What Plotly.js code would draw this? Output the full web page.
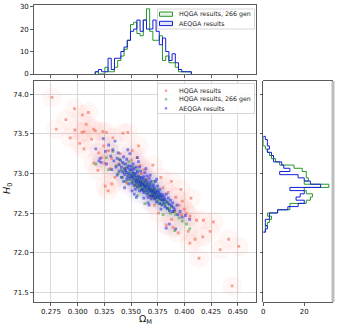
<!DOCTYPE html>
<html>
<head>
<meta charset="utf-8">
<script src="https://cdn.plot.ly/plotly-3.0.1.min.js"></script>
<style>
  html, body { margin: 0; padding: 0; background: #fff; }
  #plotArea { width: 337px; height: 328px; }
</style>
</head>
<body>
<div id="plotArea"></div>
<script>
// scatter: HQGA results (red)
var omRed = [0.276,0.297,0.3045,0.310,0.289,0.280,0.2975,0.304,0.315,0.3165,0.306,0.3235,0.3268,0.3425,0.347,0.302,0.306,0.313,0.3196,0.3226,0.315,0.319,0.3253,0.326,0.3285,0.332,0.3305,0.3385,0.3505,0.344,0.3586,0.329,0.3245,0.3317,0.351,0.3556,0.308,0.293,0.335,
  0.3705,0.3879,0.3967,0.4062,0.3973,0.4052,0.4115,0.4178,0.4273,0.4241,0.4172,0.4036,0.4052,0.410,0.3942,0.3894,0.3831,0.4415,0.4336,0.451,0.4137,0.4447,0.391,0.395,0.400,0.402,0.385,0.378,0.392,0.398,0.360,0.365,0.372,0.362,0.355,0.368,0.380,0.376,0.388,0.346,0.340,0.357,0.333];
var h0Red = [73.96,73.82,73.74,73.77,73.68,73.56,73.55,73.52,73.56,73.54,73.53,73.53,73.52,73.51,73.52,73.38,73.31,73.43,73.26,73.20,73.13,73.04,73.13,72.84,72.78,72.87,73.06,73.12,73.17,73.06,73.10,73.29,73.35,73.19,73.29,73.20,73.62,73.45,72.95,
  73.105,72.90,72.80,72.69,72.48,72.46,72.41,72.41,72.39,72.27,72.20,72.27,72.12,72.17,72.25,72.32,72.35,72.17,72.04,72.08,71.93,71.58,72.52,72.60,72.55,72.50,72.76,72.95,72.70,72.65,73.00,72.92,72.60,73.05,72.85,72.70,72.82,72.50,72.42,72.88,73.25,73.35,73.45];

// scatter: HQGA results, 266 gen (green)
var omGreen = [0.317,0.327,0.329,0.333,0.336,0.338,0.339,
  0.341,0.342,0.343,0.344,0.345,0.346,0.347,0.348,0.348,0.349,0.350,
  0.351,0.351,0.352,0.352,0.353,0.353,0.354,0.354,0.355,0.355,0.356,0.356,0.357,0.357,0.358,0.358,0.359,0.359,0.360,0.360,
  0.361,0.361,0.362,0.362,0.363,0.363,0.364,0.364,0.365,0.365,0.366,0.366,0.367,0.367,0.368,0.368,0.369,0.369,0.370,0.370,
  0.371,0.371,0.372,0.372,0.373,0.373,0.374,0.374,0.375,0.375,0.376,0.377,0.377,0.378,0.379,0.380,
  0.381,0.382,0.383,0.384,0.385,0.386,0.387,0.388,0.390,
  0.392,0.395,0.398,0.402,0.405,
  0.363,0.372,0.356,0.380,0.391];
var h0Green = [73.12,73.20,73.05,73.28,73.10,73.00,73.18,
  73.05,72.95,73.12,73.02,72.90,73.08,72.98,73.15,72.92,73.03,72.96,
  73.00,72.90,72.95,73.08,72.88,72.99,72.93,72.84,72.97,72.90,73.04,72.86,72.92,72.82,72.95,72.88,72.84,72.91,72.87,72.80,
  72.90,72.83,72.86,72.78,72.92,72.84,72.80,72.88,72.83,72.76,72.86,72.79,72.82,72.74,72.80,72.88,72.77,72.72,72.80,72.74,
  72.77,72.70,72.79,72.73,72.68,72.76,72.72,72.80,72.70,72.65,72.74,72.68,72.62,72.71,72.66,72.62,
  72.67,72.60,72.64,72.56,72.62,72.55,72.50,72.58,72.52,
  72.48,72.44,72.40,72.36,72.30,
  72.62,72.90,72.72,72.48,72.28];

// scatter: AEQGA results (blue)
var omBlue = [0.317,0.321,0.324,0.326,0.327,0.329,0.322,
  0.331,0.332,0.333,0.334,0.335,0.336,0.337,0.337,0.338,0.339,0.339,0.340,
  0.341,0.341,0.342,0.342,0.343,0.343,0.344,0.344,0.345,0.345,0.346,0.346,0.346,0.347,0.347,0.348,0.348,0.348,0.349,0.349,0.349,0.350,0.350,0.344,0.347,
  0.351,0.351,0.351,0.352,0.352,0.352,0.353,0.353,0.353,0.354,0.354,0.354,0.355,0.355,0.355,0.356,0.356,0.356,0.357,0.357,0.357,0.358,0.358,0.358,0.359,0.359,0.359,0.360,0.360,0.360,0.353,0.356,0.358,0.351,0.355,
  0.361,0.361,0.361,0.362,0.362,0.362,0.363,0.363,0.363,0.364,0.364,0.364,0.365,0.365,0.365,0.366,0.366,0.366,0.367,0.367,0.367,0.368,0.368,0.368,0.369,0.369,0.369,0.370,0.370,0.370,0.362,0.364,0.366,0.368,0.367,
  0.371,0.371,0.371,0.372,0.372,0.372,0.373,0.373,0.373,0.374,0.374,0.375,0.375,0.375,0.376,0.376,0.377,0.377,0.377,0.378,0.378,0.379,0.379,0.380,0.380,0.374,0.378,
  0.381,0.381,0.382,0.382,0.383,0.384,0.384,0.385,0.386,0.386,0.387,0.388,0.389,0.389,0.390,
  0.391,0.393,0.394,0.396,0.398,0.401,0.405,0.383,0.392,0.386,0.320];
var h0Blue = [73.31,73.19,73.44,73.28,73.12,73.36,73.14,
  73.22,73.05,73.30,73.16,73.41,73.08,73.19,72.98,73.26,73.11,73.03,73.17,
  73.08,72.95,73.14,73.02,73.21,72.90,73.06,72.99,73.12,73.04,72.93,73.18,73.01,73.07,72.96,73.10,72.87,73.00,73.05,72.94,73.25,72.98,73.09,72.82,73.30,
  72.96,73.05,72.88,73.01,72.93,73.12,72.97,72.85,73.06,72.91,73.00,72.80,72.95,73.08,72.88,72.92,73.02,72.83,72.97,72.89,73.15,72.86,72.94,72.78,72.90,73.03,72.84,72.88,72.95,72.79,72.74,73.20,73.08,72.78,72.70,
  72.87,72.93,72.80,72.85,72.96,72.76,72.89,72.82,73.01,72.84,72.78,72.92,72.86,72.74,72.97,72.81,72.89,72.70,72.83,72.77,72.94,72.80,72.86,72.72,72.78,72.90,72.68,72.76,72.83,72.71,72.69,73.06,72.63,72.98,72.60,
  72.79,72.72,72.86,72.75,72.68,72.82,72.77,72.70,72.90,72.74,72.64,72.78,72.71,72.84,72.69,72.76,72.72,72.62,72.80,72.67,72.74,72.70,72.60,72.66,72.73,72.93,72.55,
  72.70,72.63,72.67,72.58,72.74,72.64,72.56,72.69,72.61,72.53,72.66,72.59,72.52,72.63,72.57,
  72.54,72.60,72.48,72.52,72.45,72.47,72.42,72.31,72.30,72.36,73.16];

// marginal histograms (30 bins each), counts
var omBinStart = 0.3165, omBinWidth = 0.003;
var omGreenCounts = [1,0,0,3,1,1,3,6,8,11,15,22,23,18,17,24,29,19,15,15,17,6,8,5,5,3,1,1,1,1];
var omBlueCounts  = [1,2,1,1,7,2,7,7,10,12,15,19,20,24,19,24,20,20,24,19,13,16,10,6,9,5,2,1,1,1];
var h0BinStart = 72.26, h0BinWidth = 0.0403;
var h0GreenCounts = [1,1,2,3,4,2,7,13,13,21,23,24,21,20,32,20,22,21,21,19,15,8,6,4,3,2,1,0,0,0];
var h0BlueCounts  = [1,2,1,1,3,3,7,12,17,20,16,18,20,13,28,23,20,17,8,13,10,9,5,5,4,2,3,2,2,1];

var omTicks = [0.275,0.300,0.325,0.350,0.375,0.400,0.425,0.450];
var h0Ticks = [71.5,72.0,72.5,73.0,73.5,74.0];
var topHistTicks = [0,10,20,30];
var sideHistTicks = [0,20];

var RED = "rgb(242,105,85)", GREEN = "rgb(40,150,40)", BLUE = "rgb(20,30,215)";

// pixel -> paper helpers
function fx(p) { return p / 337; }
function fy(p) { return 1 - p / 328; }

function halo(xs, ys, color, size, op) {
    return {x: xs, y: ys, type: "scatter", mode: "markers", hoverinfo: "skip",
        marker: {color: color, size: size, opacity: op, line: {width: 0}}};
}
function dots(xs, ys, color, op, name) {
    return {x: xs, y: ys, type: "scatter", mode: "markers", name: name,
        marker: {color: color, size: 2.8, symbol: "square", opacity: op, line: {width: 0}}};
}
function topStep(counts, color) {
    var xs = [omBinStart], ys = [0];
    for (var i = 0; i < counts.length; i++) { xs.push(omBinStart + i * omBinWidth); ys.push(counts[i]); }
    xs.push(omBinStart + counts.length * omBinWidth); ys.push(0);
    return {x: xs, y: ys, type: "scatter", mode: "lines", xaxis: "x2", yaxis: "y2", hoverinfo: "skip",
        line: {shape: "hv", color: color, width: 1}};
}
function sideStep(counts, color) {
    var xs = [0], ys = [h0BinStart];
    for (var i = 0; i < counts.length; i++) { xs.push(counts[i]); ys.push(h0BinStart + i * h0BinWidth); }
    xs.push(0); ys.push(h0BinStart + counts.length * h0BinWidth);
    return {x: xs, y: ys, type: "scatter", mode: "lines", xaxis: "x3", yaxis: "y3", hoverinfo: "skip",
        line: {shape: "vh", color: color, width: 1}};
}

var data = [
    halo(omRed, h0Red, "rgb(250,150,130)", 20, 0.075),
    halo(omGreen, h0Green, "rgb(120,200,120)", 14, 0.03),
    halo(omBlue, h0Blue, "rgb(120,140,240)", 14, 0.03),
    dots(omRed, h0Red, RED, 0.6, "HQGA results"),
    dots(omGreen, h0Green, GREEN, 0.5, "HQGA results, 266 gen"),
    dots(omBlue, h0Blue, BLUE, 0.5, "AEQGA results"),
    topStep(omGreenCounts, GREEN),
    topStep(omBlueCounts, BLUE),
    sideStep(h0GreenCounts, GREEN),
    sideStep(h0BlueCounts, BLUE)
];

var tickFont = {family: "DejaVu Sans", size: 7, color: "#111"};
var axBase = {ticks: "outside", ticklen: 3, tickwidth: 0.8, tickcolor: "#333", showline: true,
    linecolor: "#333", linewidth: 0.8, mirror: true, zeroline: false, tickfont: tickFont, fixedrange: true};

var mainX = [fx(34), fx(256.5)], mainY = [fy(302), fy(81)];
var omRange = [0.2591, 0.4676], h0Range = [71.3775, 74.168];

var layout = {
    width: 337, height: 328,
    margin: {l: 0, r: 0, t: 0, b: 0},
    paper_bgcolor: "#fff", plot_bgcolor: "#fff",
    showlegend: false,
    font: {family: "DejaVu Sans", color: "#111"},
    xaxis: Object.assign({}, axBase, {domain: mainX, range: omRange, anchor: "y", tickvals: omTicks,
        tickformat: ".3f", showgrid: true, gridcolor: "#d0d0d0", gridwidth: 0.8}),
    yaxis: Object.assign({}, axBase, {domain: mainY, range: h0Range, anchor: "x", tickvals: h0Ticks,
        tickformat: ".1f", showgrid: true, gridcolor: "#d0d0d0", gridwidth: 0.8}),
    xaxis2: Object.assign({}, axBase, {domain: mainX, range: omRange, anchor: "y2", tickvals: omTicks,
        showticklabels: false, showgrid: false}),
    yaxis2: Object.assign({}, axBase, {domain: [fy(74), fy(5)], range: [0, 30.7], anchor: "x2",
        tickvals: topHistTicks, showgrid: false}),
    xaxis3: Object.assign({}, axBase, {domain: [fx(263.3), fx(331.7)], range: [0, 33.4], anchor: "y3",
        tickvals: sideHistTicks, showgrid: false}),
    yaxis3: Object.assign({}, axBase, {domain: mainY, range: h0Range, anchor: "x3", tickvals: h0Ticks,
        showticklabels: false, showgrid: false}),
    shapes: [
        // grey band on the right edge of the side histogram
        {type: "rect", xref: "paper", yref: "paper", x0: fx(331.5), x1: fx(334.5), y0: fy(302), y1: fy(81),
            fillcolor: "#bdbdbd", line: {width: 0}},
        // scatter legend box + markers
        {type: "rect", xref: "paper", yref: "paper", x0: fx(157.5), x1: fx(254.5), y0: fy(113.5), y1: fy(83.5),
            fillcolor: "rgba(255,255,255,0.85)", line: {color: "#cccccc", width: 0.8}},
        {type: "rect", xref: "paper", yref: "paper", x0: fx(164.8), x1: fx(167.2), y0: fy(91.9), y1: fy(89.5),
            fillcolor: RED, opacity: 0.6, line: {width: 0}},
        {type: "rect", xref: "paper", yref: "paper", x0: fx(164.8), x1: fx(167.2), y0: fy(100.5), y1: fy(98.1),
            fillcolor: GREEN, opacity: 0.5, line: {width: 0}},
        {type: "rect", xref: "paper", yref: "paper", x0: fx(164.8), x1: fx(167.2), y0: fy(109.5), y1: fy(107.1),
            fillcolor: BLUE, opacity: 0.5, line: {width: 0}},
        // histogram legend box + patches
        {type: "rect", xref: "paper", yref: "paper", x0: fx(157.5), x1: fx(254.5), y0: fy(29), y1: fy(9),
            fillcolor: "rgba(255,255,255,0.85)", line: {color: "#cccccc", width: 0.8}},
        {type: "rect", xref: "paper", yref: "paper", x0: fx(159.5), x1: fx(172.5), y0: fy(16.3), y1: fy(12),
            fillcolor: "rgba(40,150,40,0.12)", line: {color: GREEN, width: 1}},
        {type: "rect", xref: "paper", yref: "paper", x0: fx(159.5), x1: fx(172.5), y0: fy(25.6), y1: fy(21.3),
            fillcolor: "rgba(20,30,215,0.12)", line: {color: BLUE, width: 1}}
    ],
    annotations: [
        {xref: "paper", yref: "paper", x: fx(177), y: fy(90.7), xanchor: "left", yanchor: "middle", showarrow: false,
            text: "HQGA results", font: {size: 6.3, color: "#222"}},
        {xref: "paper", yref: "paper", x: fx(177), y: fy(99.3), xanchor: "left", yanchor: "middle", showarrow: false,
            text: "HQGA results, 266 gen", font: {size: 6.3, color: "#222"}},
        {xref: "paper", yref: "paper", x: fx(177), y: fy(108.3), xanchor: "left", yanchor: "middle", showarrow: false,
            text: "AEQGA results", font: {size: 6.3, color: "#222"}},
        {xref: "paper", yref: "paper", x: fx(177), y: fy(14.2), xanchor: "left", yanchor: "middle", showarrow: false,
            text: "HQGA results, 266 gen", font: {size: 6.3, color: "#222"}},
        {xref: "paper", yref: "paper", x: fx(177), y: fy(23.5), xanchor: "left", yanchor: "middle", showarrow: false,
            text: "AEQGA results", font: {size: 6.3, color: "#222"}},
        // axis titles
        {xref: "paper", yref: "paper", x: fx(145), y: fy(319), xanchor: "center", yanchor: "middle", showarrow: false,
            text: "Ω<sub>M</sub>", font: {size: 9.5, color: "#111"}},
        {xref: "paper", yref: "paper", x: fx(7), y: fy(189), xanchor: "center", yanchor: "middle", showarrow: false,
            textangle: -90, text: "<i>H</i><sub>0</sub>", font: {size: 9.5, color: "#111"}}
    ]
};

Plotly.newPlot("plotArea", data, layout, {staticPlot: true, displayModeBar: false});
</script>
</body>
</html>
